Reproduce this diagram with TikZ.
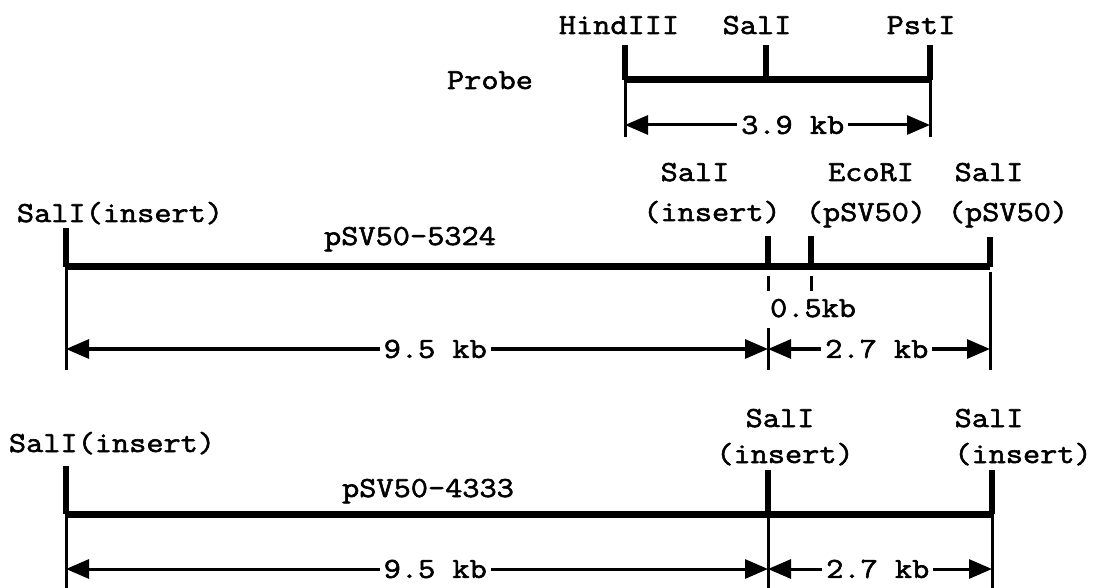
\documentclass[tikz,border=0pt]{standalone}
\usepackage{fontspec}
\newfontfamily\cour{Latin Modern Mono}[FakeStretch=1.15,FakeBold=2]
\usetikzlibrary{arrows.meta}
\begin{document}
\begin{tikzpicture}[x=1pt,y=-1pt,
  lbl/.style={font=\cour\fontsize{29}{31}\selectfont, inner sep=0pt, anchor=base},
  bar/.style={line width=7pt},
  tick/.style={line width=5.5pt},
  guide/.style={line width=3pt},
  dim/.style={line width=3pt, {Triangle[length=23pt,width=19pt]}-{Triangle[length=23pt,width=19pt]}},
  dimlbl/.style={font=\cour\fontsize{29}{31}\selectfont, fill=white, inner xsep=4pt, inner ysep=0pt, anchor=center}]
\useasboundingbox[fill=white] (0,0) rectangle (1096,588);

% ---------- Probe ----------
\node[lbl] (tH) at (619,34) {HindIII};
\node[lbl] (tS) at (757,34) {SalI};
\node[lbl] (tP) at (921,34) {PstI};
\node[lbl] (probe) at (490,89) {Probe};
\coordinate (h0) at (625,45); \coordinate (h1) at (625,80); \coordinate (h2) at (625,137); \coordinate (ha) at (625,125);
\coordinate (s0) at (766,45); \coordinate (s1) at (766,80);
\coordinate (q0) at (930,45); \coordinate (q1) at (930,80); \coordinate (q2) at (930,137); \coordinate (qa) at (930,125);
\draw[tick] (h0) -- (h1);
\draw[tick] (s0) -- (s1);
\draw[tick] (q0) -- (q1);
\draw[bar] (h1) -- (q1);
\draw[guide] (h1) -- (h2);
\draw[guide] (q1) -- (q2);
\draw[dim] (ha) -- node[dimlbl,pos=0.55] (d39) {3.9 kb} (qa);

% ---------- pSV50-5324 ----------
\node[lbl] (a1) at (120,222) {SalI(insert)};
\node[lbl] (a2) at (410,245) {pSV50-5324};
\node[lbl] (a3) at (695,181) {SalI};
\node[lbl] (a4) at (712,221) {(insert)};
\node[lbl] (a5) at (871,181) {EcoRI};
\node[lbl] (a6) at (866,221) {(pSV50)};
\node[lbl] (a7) at (989,181) {SalI};
\node[lbl] (a8) at (1008,221) {(pSV50)};
\coordinate (b0) at (66,228); \coordinate (b1) at (66,267); \coordinate (b2) at (66,370); \coordinate (ba) at (66,349);
\coordinate (c0) at (768,236); \coordinate (c1) at (768,267); \coordinate (c2) at (768,276); \coordinate (c3) at (768,291);
\coordinate (c4) at (768,328); \coordinate (c5) at (768,370); \coordinate (ca) at (768,349);
\coordinate (e0) at (811,236); \coordinate (e1) at (811,267); \coordinate (e2) at (811,276); \coordinate (e3) at (811,291);
\coordinate (f0) at (990,237); \coordinate (f1) at (990,267); \coordinate (f2) at (990,272); \coordinate (f3) at (990,370); \coordinate (fa) at (990,349);
\draw[tick] (b0) -- (b1);
\draw[tick] (c0) -- (c1);
\draw[tick] (e0) -- (e1);
\draw[tick] (f0) -- (f1);
\draw[bar] (b1) -- (f1);
\draw[guide] (b1) -- (b2);
\draw[guide] (c2) -- (c3);
\draw[guide] (e2) -- (e3);
\draw[guide] (c4) -- (c5);
\draw[guide] (f2) -- (f3);
\node[lbl] (k05) at (813,317) {0.5kb};
\draw[dim] (ba) -- node[dimlbl,pos=0.526] (d95a) {9.5 kb} (ca);
\draw[dim] (ca) -- node[dimlbl,pos=0.49] (d27a) {2.7 kb} (fa);

% ---------- pSV50-4333 ----------
\node[lbl] (g1) at (112,452) {SalI(insert)};
\node[lbl] (g2) at (428,497) {pSV50-4333};
\node[lbl] (g3) at (780,427) {SalI};
\node[lbl] (g4) at (785,463) {(insert)};
\node[lbl] (g5) at (989,427) {SalI};
\node[lbl] (g6) at (1023,463) {(insert)};
\coordinate (m0) at (66,466); \coordinate (m1) at (66,514); \coordinate (m2) at (66,592); \coordinate (ma) at (66,569);
\coordinate (n0) at (768,470); \coordinate (n1) at (768,514); \coordinate (n2) at (768,592); \coordinate (na) at (768,569);
\coordinate (r0) at (992,470); \coordinate (r1) at (992,514); \coordinate (r2) at (992,592); \coordinate (ra) at (992,569);
\draw[tick] (m0) -- (m1);
\draw[tick] (n0) -- (n1);
\draw[tick] (r0) -- (r1);
\draw[bar] (m1) -- (r1);
\draw[guide] (m1) -- (m2);
\draw[guide] (n1) -- (n2);
\draw[guide] (r1) -- (r2);
\draw[dim] (ma) -- node[dimlbl,pos=0.526] (d95b) {9.5 kb} (na);
\draw[dim] (na) -- node[dimlbl,pos=0.49] (d27b) {2.7 kb} (ra);
\end{tikzpicture}
\end{document}
